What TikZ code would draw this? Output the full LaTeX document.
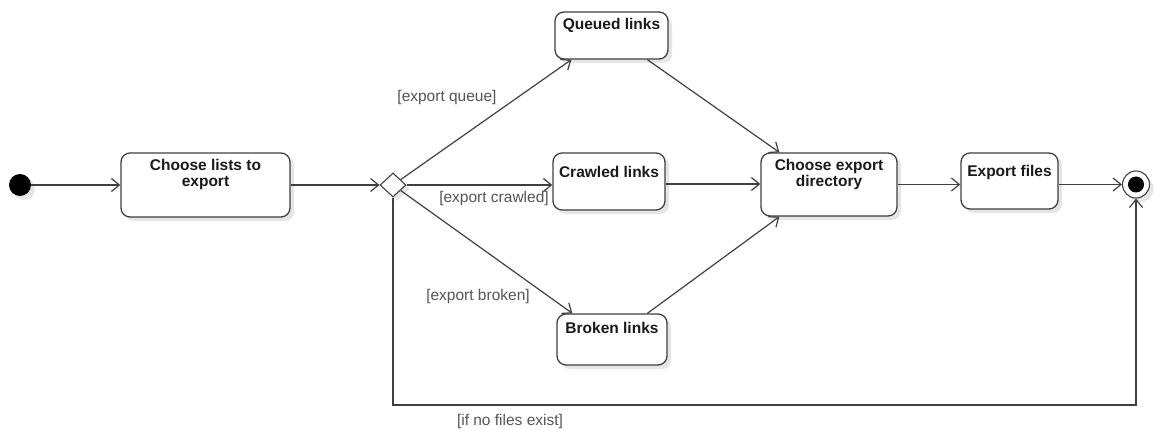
\documentclass[tikz,border=0pt]{standalone}
\usepackage{fontspec}
\setmainfont{Liberation Sans}
\usetikzlibrary{arrows.meta,shadows,shapes.geometric,calc}
\definecolor{linec}{HTML}{404040}
\definecolor{txtc}{HTML}{1A1A1A}
\definecolor{grdc}{HTML}{555555}
\begin{document}
\begin{tikzpicture}[x=1pt,y=-1pt,
  line/.style={draw=linec, line width=1.2pt},
  arr/.style={line, -{Straight Barb[length=8pt,width=13pt]}},
  shad/.style={drop shadow={shadow xshift=4pt, shadow yshift=-4pt, fill=black, opacity=0.1}},
  box/.style={draw=linec, line width=1.3pt, rounded corners=9pt, fill=white, shad, inner sep=0pt},
  ttl/.style={font=\fontsize{15.5}{16.5}\selectfont\bfseries, text=txtc, align=center, anchor=north, inner sep=0pt},
  grd/.style={font=\fontsize{15.5}{16.5}\selectfont, text=grdc, inner sep=0pt}
]
\useasboundingbox (0,0) rectangle (1154,430);

% start / end
\node[circle, fill=black, minimum size=22pt, inner sep=0pt, shad] (s) at (20,185) {};
\node[circle, draw=linec, line width=1.1pt, fill=white, minimum size=27pt, inner sep=0pt, shad] (e) at (1136,184.5) {};
\node[circle, fill=black, minimum size=16pt, inner sep=0pt] (ei) at (1136,184.5) {};

% boxes
\node[box, minimum width=169pt, minimum height=64pt] (cl) at (205.5,185) {};
\node[ttl] (clt) at (205.5,159) {Choose lists to\\export};
\node[box, minimum width=113pt, minimum height=47pt] (q) at (611.5,35.5) {};
\node[ttl] (qt) at (611.5,18) {Queued links};
\node[box, minimum width=112pt, minimum height=57pt] (c) at (609,181.5) {};
\node[ttl] (ct) at (609,166) {Crawled links};
\node[box, minimum width=110pt, minimum height=51pt] (b) at (612,339.5) {};
\node[ttl] (bt) at (612,322) {Broken links};
\node[box, minimum width=136pt, minimum height=63pt] (ce) at (829,184.5) {};
\node[ttl] (cet) at (829,159) {Choose export\\directory};
\node[box, minimum width=97pt, minimum height=56pt] (ef) at (1009.5,181) {};
\node[ttl] (eft) at (1009.5,165) {Export files};

% decision
\node[diamond, draw=linec, line width=1.1pt, fill=white, minimum width=26pt, minimum height=24pt, inner sep=0pt, shad] (d) at (393,185) {};

\coordinate (lp) at (1136,405);

% connectors
\draw[arr] (s) -- (cl.west |- s);
\draw[arr] (cl.east |- d) -- (d);
\draw[arr] (d) -- ($(q.south west)+(17,0)$);
\draw[arr] (d) -- (c.west |- d);
\draw[arr] (d) -- ($(b.north west)+(16,0)$);
\draw[arr] ($(q.south west)+(93,0)$) -- ($(ce.north west)+(19,0)$);
\draw[arr] ($(c.east)+(0,2.5)$) -- ($(ce.west)+(0,-0.5)$);
\draw[arr] ($(b.north west)+(91,0)$) -- ($(ce.south west)+(19,0)$);
\draw[arr] ($(ce.east)+(0,0)$) -- ($(ef.west)+(0,3.5)$);
\draw[arr] ($(ef.east)+(0,3.5)$) -- (e.west);
\draw[arr] (d.south) |- (lp) -- (e.south);

% guards
\node[grd] (g1) at (447,97) {[export queue]};
\node[grd] (g2) at (494,198) {[export crawled]};
\node[grd] (g3) at (478,296) {[export broken]};
\node[grd] (g4) at (510,421) {[if no files exist]};
\end{tikzpicture}
\end{document}
